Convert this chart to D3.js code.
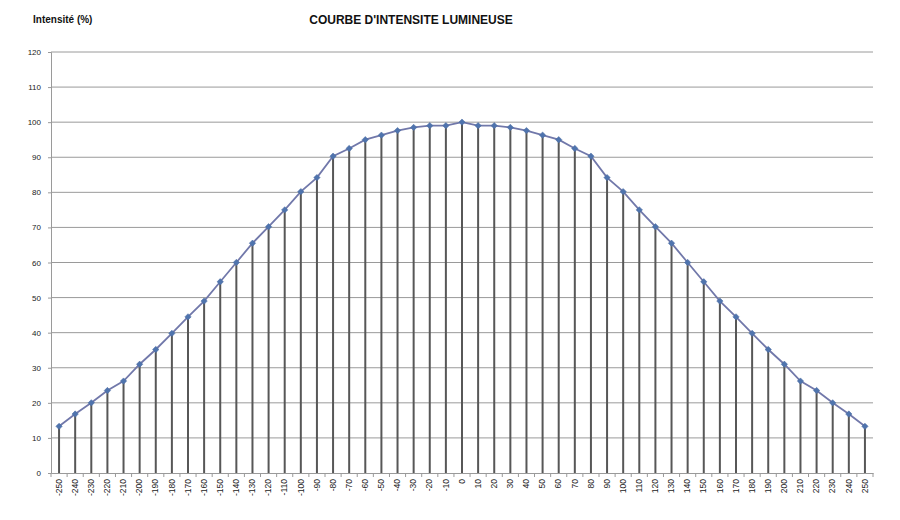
<!DOCTYPE html>
<html><head><meta charset="utf-8">
<script src="https://cdn.jsdelivr.net/npm/d3@7/dist/d3.min.js"></script>
<style>body{margin:0;background:#fff}svg{display:block}text{font-family:"Liberation Sans",Arial,sans-serif}</style>
</head><body><svg id="c" width="900" height="520"></svg>
<script>
const categories = [-250,-240,-230,-220,-210,-200,-190,-180,-170,-160,-150,-140,-130,-120,-110,-100,-90,-80,-70,-60,-50,-40,-30,-20,-10,0,10,20,30,40,50,60,70,80,90,100,110,120,130,140,150,160,170,180,190,200,210,220,230,240,250];
const intensity = [13.3,16.8,20,23.5,26.2,31,35.2,39.8,44.5,49,54.5,60,65.5,70.2,75,80.2,84.2,90.3,92.5,95,96.3,97.6,98.5,99,99,100,99,99,98.5,97.6,96.3,95,92.5,90.3,84.2,80.2,75,70.2,65.5,60,54.5,49,44.5,39.8,35.2,31,26.2,23.5,20,16.8,13.3];
const yTicks = [0,10,20,30,40,50,60,70,80,90,100,110,120];

const svg = d3.select("#c");
const L = 51, R = 873, T = 52, B = 473;
const x = d3.scaleBand().domain(categories).range([L, R]).padding(0);
const y = d3.scaleLinear().domain([0, 120]).range([B, T]);

// gridlines
svg.append("g").selectAll("line").data(yTicks.filter(d => d > 0)).join("line")
  .attr("x1", L).attr("x2", R).attr("y1", d => y(d)).attr("y2", d => y(d))
  .attr("stroke", "#9a9a9a").attr("stroke-width", 1);

// y axis
const ya = svg.append("g").attr("transform", `translate(${L},0)`)
  .call(d3.axisLeft(y).tickValues(yTicks).tickSize(3).tickPadding(7));
ya.select(".domain").attr("stroke", "#9a9a9a");
ya.selectAll(".tick line").attr("stroke", "#9a9a9a");
ya.selectAll("text").attr("font-size", 8).attr("fill", "#222");

// x axis
const xa = svg.append("g").attr("transform", `translate(0,${B})`)
  .call(d3.axisBottom(x).tickSize(0).tickPadding(4));
xa.select(".domain").attr("stroke", "#9a9a9a");
xa.selectAll("text").attr("font-size", 8.5).attr("fill", "#222")
  .attr("text-anchor", "end").attr("dy", "0.32em")
  .attr("transform", "translate(0,6) rotate(-90)").attr("x", 0).attr("y", 0);
// band boundary ticks
svg.append("g").selectAll("line").data(d3.range(categories.length + 1)).join("line")
  .attr("x1", i => L + i * x.step()).attr("x2", i => L + i * x.step())
  .attr("y1", B).attr("y2", B + 4).attr("stroke", "#9a9a9a");

const cx = d => x(d) + x.bandwidth() / 2;
const pts = categories.map((c, i) => ({c, v: intensity[i]}));

// drop lines
svg.append("g").selectAll("line").data(pts).join("line")
  .attr("x1", d => cx(d.c)).attr("x2", d => cx(d.c))
  .attr("y1", d => y(d.v)).attr("y2", B)
  .attr("stroke", "#575757").attr("stroke-width", 2);

// series line
svg.append("path").datum(pts)
  .attr("d", d3.line().x(d => cx(d.c)).y(d => y(d.v)))
  .attr("fill", "none").attr("stroke", "#7178aa").attr("stroke-width", 1.8);

// markers
svg.append("g").selectAll("path").data(pts).join("path")
  .attr("transform", d => `translate(${cx(d.c)},${y(d.v)})`)
  .attr("d", d3.symbol(d3.symbolDiamond2, 26)())
  .attr("fill", "#4f74ae").attr("stroke", "#4a6aa0").attr("stroke-width", 0.5);

svg.append("text").attr("x", 411).attr("y", 24).attr("text-anchor", "middle")
  .attr("font-size", 12).attr("font-weight", "bold").attr("fill", "#111")
  .text("COURBE D'INTENSITE LUMINEUSE");
svg.append("text").attr("x", 33).attr("y", 23)
  .attr("font-size", 10).attr("font-weight", "bold").attr("fill", "#111")
  .text("Intensité (%)");
</script></body></html>
